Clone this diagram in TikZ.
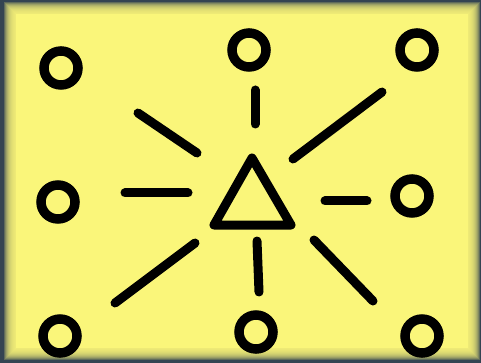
\documentclass[tikz,border=0pt]{standalone}
\begin{document}
\begin{tikzpicture}[x=1pt,y=-1pt,
  ink/.style={line width=9pt,draw=black,line cap=round},
  ring/.style={line width=9.5pt,draw=black},
]
\definecolor{bgyellow}{RGB}{250,246,122}
\definecolor{bgdark}{RGB}{52,68,82}
\useasboundingbox (0,0) rectangle (481,363);
\fill[bgdark] (0,0) rectangle (481,363);
\foreach \i in {0,...,11}{
  \fill[bgyellow,opacity=0.22] (4+\i,2+\i) rectangle (480-\i,360-\i);
}
\fill[bgyellow] (16,14) rectangle (468,348);
% circles
\foreach \cx/\cy in {61/68, 249/50, 417/50, 58/202, 412/196, 60/336, 256/332, 422/336}{
  \draw[ring] (\cx,\cy) circle (17);
}
% rays
\draw[ink] (255,90) -- (255,124);
\draw[ink] (138,113) -- (197,153);
\draw[ink] (293,159) -- (382,92);
\draw[ink] (125,193) -- (188,193);
\draw[ink] (325,201) -- (367,201);
\draw[ink] (115,303) -- (195,243);
\draw[ink] (257,241) -- (259,292);
\draw[ink] (314,240) -- (373,301);
% triangle
\draw[line width=9pt,line join=round] (252,158) -- (291,225) -- (214,225) -- cycle;
\end{tikzpicture}
\end{document}
